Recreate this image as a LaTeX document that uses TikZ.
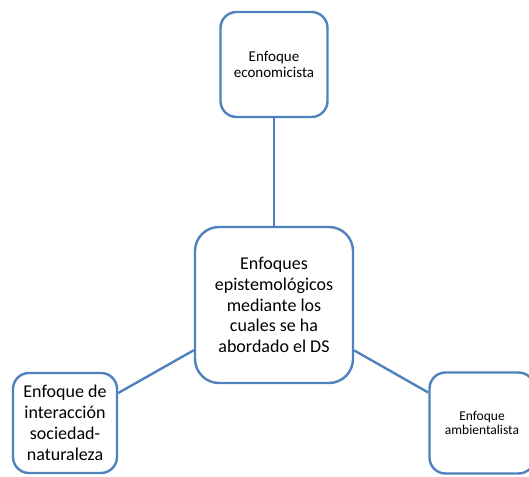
\documentclass[tikz,border=0pt]{standalone}
\usepackage{fontspec}
\setmainfont{Carlito}
\definecolor{boxblue}{RGB}{79,129,189}

\begin{document}
\begin{tikzpicture}[x=1pt, y=1pt,
  box/.style={draw=boxblue, line width=2.4pt, rounded corners=16pt, fill=white, align=center, inner sep=0pt},
  link/.style={draw=boxblue, line width=2.4pt}]
  \clip (0,0) rectangle (529,476);

  % Central box
  \node[box, minimum width=158, minimum height=156, rounded corners=24pt,
    font=\fontsize{18}{20.7}\selectfont] (enfoques) at (274,171)
    {Enfoques\\epistemológicos\\mediante los\\cuales se ha\\abordado el DS};

  % Outer boxes
  \node[box, minimum width=107, minimum height=105, font=\fontsize{15}{16.5}\selectfont]
    (economicista) at (274,411.5) {Enfoque\\economicista};
  \node[box, minimum width=104, minimum height=100, font=\fontsize{18}{21}\selectfont]
    (interaccion) at (65,53) {Enfoque de\\interacción\\sociedad-\\naturaleza};
  \node[box, minimum width=105, minimum height=101, font=\fontsize{13.5}{13.5}\selectfont]
    (ambientalista) at (482,53) {Enfoque\\ambientalista};

  % Links
  \draw[link] (enfoques) -- (economicista);
  \draw[link] (enfoques) -- (interaccion);
  \draw[link] (enfoques) -- (ambientalista);

\end{tikzpicture}
\end{document}
